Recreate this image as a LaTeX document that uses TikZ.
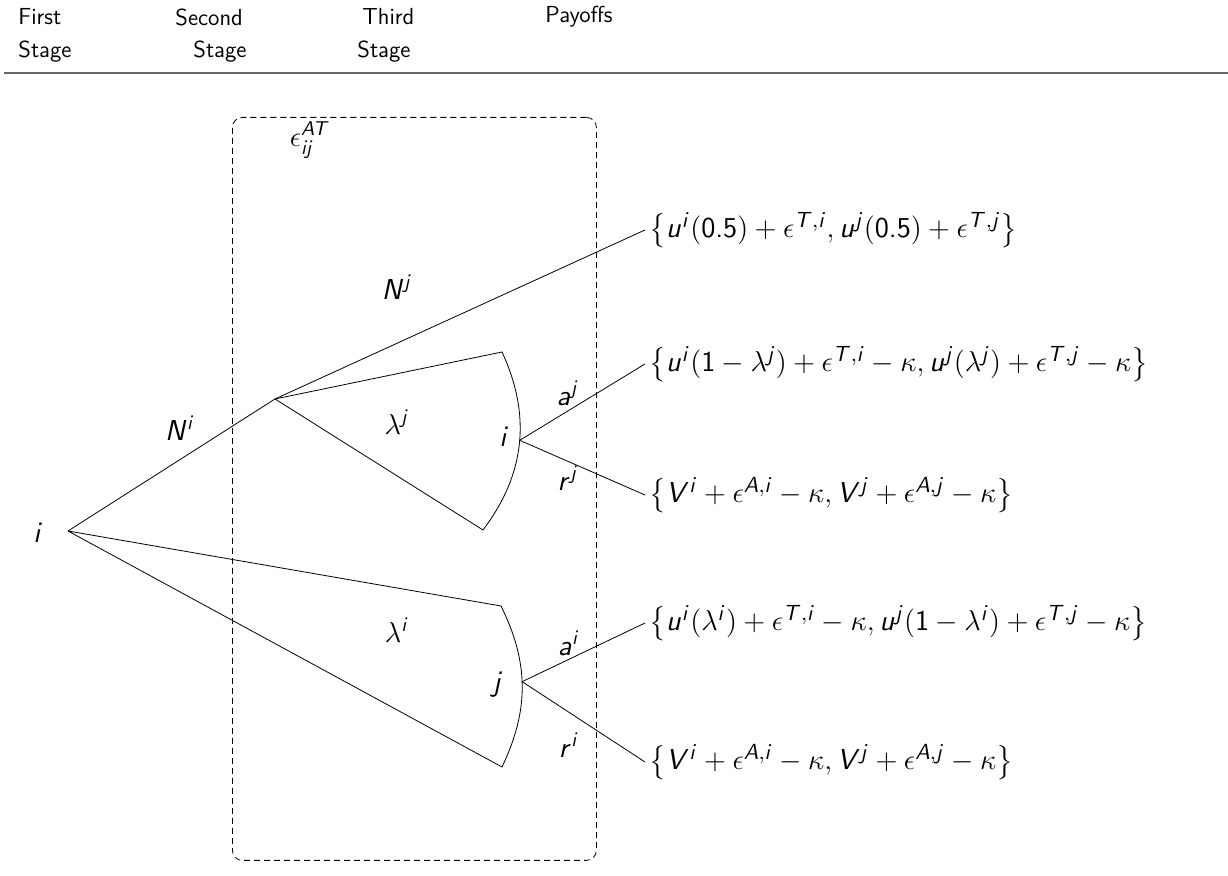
\documentclass[tikz,border=0pt]{standalone}
\usepackage{amsmath}
\usetikzlibrary{positioning}
\renewcommand{\familydefault}{\sfdefault}
% sans serif letters and digits in math
\DeclareSymbolFont{sfit}{OT1}{cmss}{m}{sl}
\DeclareSymbolFont{sfup}{OT1}{cmss}{m}{n}
\DeclareMathSymbol{a}{\mathalpha}{sfit}{`a}
\DeclareMathSymbol{i}{\mathalpha}{sfit}{`i}
\DeclareMathSymbol{j}{\mathalpha}{sfit}{`j}
\DeclareMathSymbol{r}{\mathalpha}{sfit}{`r}
\DeclareMathSymbol{u}{\mathalpha}{sfit}{`u}
\DeclareMathSymbol{A}{\mathalpha}{sfit}{`A}
\DeclareMathSymbol{N}{\mathalpha}{sfit}{`N}
\DeclareMathSymbol{T}{\mathalpha}{sfit}{`T}
\DeclareMathSymbol{V}{\mathalpha}{sfit}{`V}
\DeclareMathSymbol{0}{\mathalpha}{sfup}{`0}
\DeclareMathSymbol{1}{\mathalpha}{sfup}{`1}
\DeclareMathSymbol{5}{\mathalpha}{sfup}{`5}
\DeclareMathSymbol{.}{\mathord}{sfup}{`.}

\begin{document}
\begin{tikzpicture}[x=0.5pt, y=-0.5pt,
  head/.style={anchor=west, inner sep=0pt, font=\fontsize{11.6}{14}\selectfont},
  lbl/.style={inner sep=1pt, font=\Large},
  pay/.style={anchor=west, inner sep=2pt, font=\fontsize{15.2}{18}\selectfont},
  stagebox/.style={draw, dashed, dash pattern=on 3pt off 2pt, rounded corners=5pt}]
\useasboundingbox (0,0) rectangle (1228,876);
% header
\node[head] (h1a) at (18,17) {First};
\node[head] (h1b) at (18,52) {Stage};
\node[head] (h2a) at (175,17) {Second};
\node[head] (h2b) at (193,52) {Stage};
\node[head] (h3a) at (362,17) {Third};
\node[head] (h3b) at (357,52) {Stage};
\node[head] (h4a) at (545,17) {Payoffs};
\coordinate (rl) at (4,73); \coordinate (rr) at (1228,73);
\draw[gray!80!black, line width=0.6pt] (rl) -- (rr);
% information set
\node[stagebox, minimum width=182pt, minimum height=371.5pt, anchor=north west] (box) at (232,117) {};
\node[lbl] (eps) at (310,140) {$\epsilon^{AT}_{ij}$};
% decision points
\coordinate (n1) at (68,531);
\coordinate (n2) at (275,399);
\coordinate (fa) at (502,352); \coordinate (fb) at (483,530);
\coordinate (ga) at (501,606); \coordinate (gb) at (502,767);
\node[lbl] (l1) at (38,533) {$i$};
% payoffs
\node[pay] (p1) at (645,230) {$\left\{u^i(0.5)+\epsilon^{T,i},u^j(0.5)+\epsilon^{T,j}\right\}$};
\node[pay] (p2) at (645,364) {$\left\{u^i(1-\lambda^j)+\epsilon^{T,i}-\kappa,u^j(\lambda^j)+\epsilon^{T,j}-\kappa\right\}$};
\node[pay] (p3) at (645,495) {$\left\{V^i+\epsilon^{A,i}-\kappa,V^j+\epsilon^{A,j}-\kappa\right\}$};
\node[pay] (p4) at (645,623) {$\left\{u^i(\lambda^i)+\epsilon^{T,i}-\kappa,u^j(1-\lambda^i)+\epsilon^{T,j}-\kappa\right\}$};
\node[pay] (p5) at (645,762) {$\left\{V^i+\epsilon^{A,i}-\kappa,V^j+\epsilon^{A,j}-\kappa\right\}$};
% tree
\draw (n1) -- (n2);
\draw (n2) -- (p1.west);
\draw (n2) -- (fa) to[bend left=31] coordinate[pos=0.48] (n3) (fb) -- (n2);
\draw (n1) -- (ga) to[bend left=26] coordinate[pos=0.47] (n4) (gb) -- (n1);
\draw (n3) -- (p2.west);
\draw (n3) -- (p3.west);
\draw (n4) -- (p4.west);
\draw (n4) -- (p5.west);
% labels
\node[lbl] (lNi) at (180,428) {$N^i$};
\node[lbl] (lNj) at (397,287) {$N^j$};
\node[lbl] (llj) at (397,422) {$\lambda^j$};
\node[lbl] (l3i) at (504,437) {$i$};
\node[lbl] (laj) at (568,393) {$a^j$};
\node[lbl] (lrj) at (568,478) {$r^j$};
\node[lbl] (lli) at (397,630) {$\lambda^i$};
\node[lbl] (l3j) at (498,685) {$j$};
\node[lbl] (lai) at (569,643) {$a^i$};
\node[lbl] (lri) at (569,745) {$r^i$};
\end{tikzpicture}
\end{document}
